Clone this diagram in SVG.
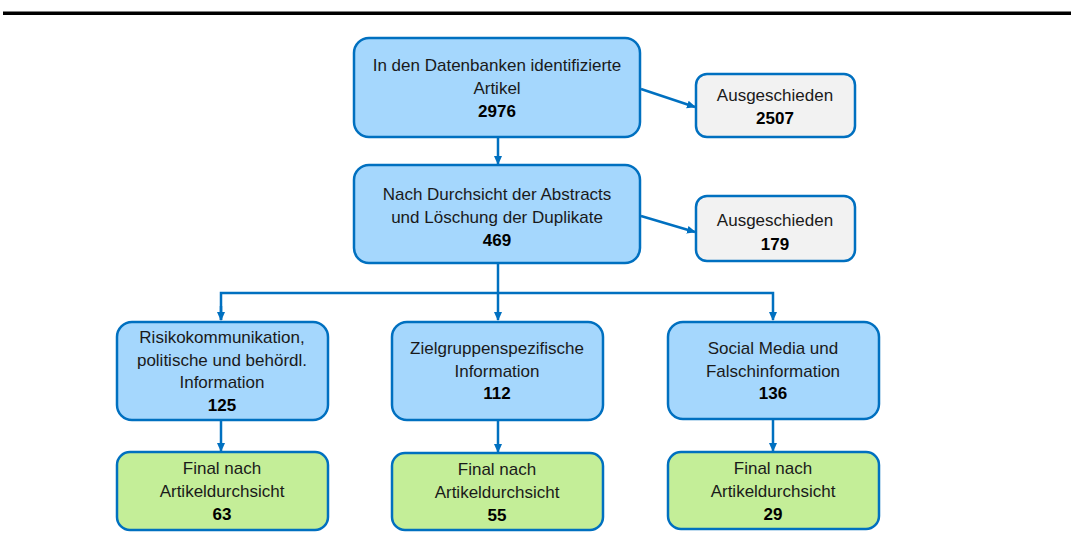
<svg xmlns="http://www.w3.org/2000/svg" width="1074" height="549" viewBox="0 0 1074 549">
<style>
.box{stroke:#0070C0;stroke-width:2.5}
.blue{fill:#A5D7FD}
.grey{fill:#F2F2F2}
.green{fill:#C4EE98}
text{font-family:"Liberation Sans",Arial,sans-serif;font-size:17px;fill:#1a1a1a;text-anchor:middle}
.b{font-weight:bold;fill:#000}
.con{stroke:#0070C0;stroke-width:2.5;fill:none}
</style>
<defs>
<marker id="ah" markerWidth="10" markerHeight="10" refX="8" refY="5" orient="auto" markerUnits="userSpaceOnUse">
<path d="M0,1 L9,5 L0,9 Z" fill="#0070C0"/>
</marker>
</defs>
<rect x="3" y="11.5" width="1068" height="3.5" fill="#000"/>
<g id="connectors">
<line class="con" x1="498" y1="137" x2="498" y2="164" marker-end="url(#ah)"/>
<line class="con" x1="641" y1="89" x2="695" y2="107" marker-end="url(#ah)"/>
<line class="con" x1="641" y1="216" x2="695" y2="232" marker-end="url(#ah)"/>
<path class="con" d="M498,263 V293"/>
<path class="con" d="M498,293 V320" marker-end="url(#ah)"/>
<path class="con" d="M221,320 V293 H773 V320" marker-end="url(#ah)"/>
<path class="con" d="M221,306 V320" marker-end="url(#ah)"/>
<line class="con" x1="221" y1="420" x2="221" y2="451" marker-end="url(#ah)"/>
<line class="con" x1="498" y1="420" x2="498" y2="452" marker-end="url(#ah)"/>
<line class="con" x1="773" y1="419" x2="773" y2="451" marker-end="url(#ah)"/>
</g>
<g id="n1">
<rect class="box blue" x="354" y="38" width="286" height="99" rx="15"/>
<text x="497" y="71">In den Datenbanken identifizierte</text>
<text x="497" y="94">Artikel</text>
<text class="b" x="497" y="117">2976</text>
</g>
<g id="n2">
<rect class="box grey" x="696" y="74" width="159" height="63" rx="11"/>
<text x="775" y="101">Ausgeschieden</text>
<text class="b" x="775" y="124">2507</text>
</g>
<g id="n3">
<rect class="box blue" x="354" y="165" width="286" height="98" rx="15"/>
<text x="497" y="200">Nach Durchsicht der Abstracts</text>
<text x="497" y="223">und Löschung der Duplikate</text>
<text class="b" x="497" y="246">469</text>
</g>
<g id="n4">
<rect class="box grey" x="696" y="196" width="159" height="65" rx="11"/>
<text x="775" y="226">Ausgeschieden</text>
<text class="b" x="775" y="250">179</text>
</g>
<g id="n5">
<rect class="box blue" x="117" y="322" width="211" height="98" rx="15"/>
<text x="222" y="343">Risikokommunikation,</text>
<text x="222" y="366">politische und behördl.</text>
<text x="222" y="388">Information</text>
<text class="b" x="222" y="411">125</text>
</g>
<g id="n6">
<rect class="box blue" x="392" y="322" width="211" height="98" rx="15"/>
<text x="497" y="354">Zielgruppenspezifische</text>
<text x="497" y="377">Information</text>
<text class="b" x="497" y="399">112</text>
</g>
<g id="n7">
<rect class="box blue" x="668" y="322" width="211" height="97" rx="15"/>
<text x="773" y="354">Social Media und</text>
<text x="773" y="377">Falschinformation</text>
<text class="b" x="773" y="399">136</text>
</g>
<g id="n8">
<rect class="box green" x="117" y="452" width="211" height="78" rx="13"/>
<text x="222" y="474">Final nach</text>
<text x="222" y="497">Artikeldurchsicht</text>
<text class="b" x="222" y="520">63</text>
</g>
<g id="n9">
<rect class="box green" x="392" y="453" width="211" height="77" rx="13"/>
<text x="497" y="475">Final nach</text>
<text x="497" y="498">Artikeldurchsicht</text>
<text class="b" x="497" y="521">55</text>
</g>
<g id="n10">
<rect class="box green" x="668" y="452" width="211" height="77" rx="13"/>
<text x="773" y="474">Final nach</text>
<text x="773" y="497">Artikeldurchsicht</text>
<text class="b" x="773" y="520">29</text>
</g>
</svg>
